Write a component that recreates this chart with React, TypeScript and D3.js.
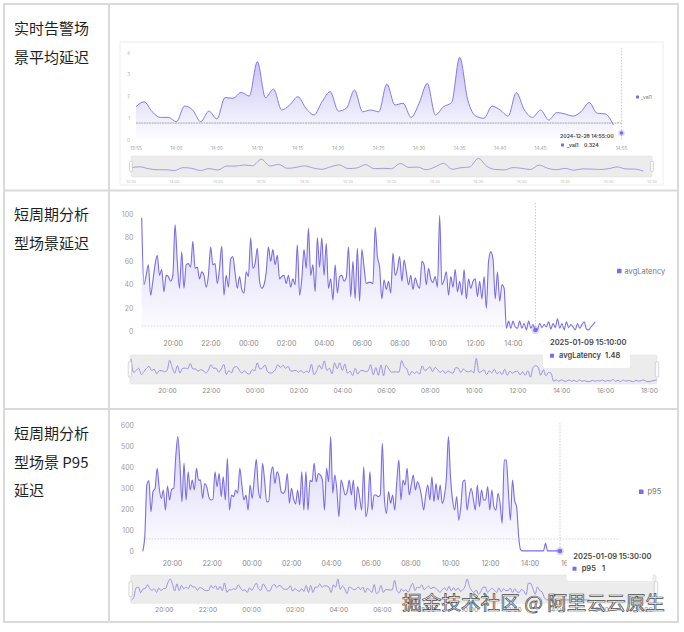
import React from 'react';
import * as d3 from 'd3';

const LINE_COLOR = '#7a6de6';
const SLIDER_LINE = '#9188ea';

const rowLabels: string[][] = [
  ['实时告警场', '景平均延迟'],
  ['短周期分析', '型场景延迟'],
  ['短周期分析', '型场景 P95', '延迟'],
];
const watermark = '掘金技术社区 @ 阿里云云原生';

// ---------- chart 1: realtime alert scenario ----------
const val1Name = '_val1';
const val1Start = '2024-12-28T13:55:00';
const val1End = '2024-12-28T14:54:00';
const val1Domain = ['2024-12-28T13:55:00', '2024-12-28T14:55:00'];
const val1YDomain = [0, 4];
const val1YTicks = [0, 1, 2, 3, 4];
const val1Values = [
  1.53, 1.76, 1.3, 1.04, 1.04, 0.84, 1.56, 1.38, 0.84, 1.33,
  0.97, 1.95, 1.92, 2.19, 2.02, 3.6, 1.95, 2.34, 1.38, 1.61,
  1.99, 1.46, 1.15, 1.76, 2.22, 1.33, 1.46, 2.3, 1.3, 1.38,
  1.3, 2.57, 1.61, 1.69, 1.04, 1.7, 2.6, 1.15, 1.53, 1.72,
  3.8, 1.84, 1.1, 1.0, 1.56, 1.38, 1.1, 2.18, 1.38, 1.04,
  1.38, 0.92, 1.26, 1.2, 1.1, 1.3, 1.72, 1.23, 1.2, 0.69,
];
const val1Tip = { time: '2024-12-28T14:55:00', title: '2024-12-28 14:55:00', value: 0.324, text: '0.324' };
const val1Pointer = 0.78;

// ---------- chart 2: short-period avg latency ----------
const avgName = 'avgLatency';
const avgStart = '2025-01-08T18:20:00';
const avgEnd = '2025-01-09T18:20:00';
const avgDomain = ['2025-01-08T18:20:00', '2025-01-09T18:20:00'];
const avgYDomain = [0, 100];
const avgYTicks = [0, 20, 40, 60, 80, 100];
const avgValues = [
  97, 40, 48, 57, 31, 43, 57, 65, 48, 53,
  34, 48, 47, 43, 48, 91, 60, 37, 68, 37,
  57, 58, 55, 77, 54, 55, 45, 51, 48, 38,
  48, 72, 57, 58, 41, 54, 73, 31, 48, 38,
  62, 64, 50, 37, 47, 36, 33, 51, 47, 80,
  54, 58, 71, 43, 37, 40, 51, 72, 60, 70,
  57, 65, 45, 47, 48, 41, 48, 38, 45, 40,
  74, 31, 45, 70, 54, 88, 48, 57, 34, 80,
  55, 80, 48, 75, 37, 45, 27, 57, 33, 47,
  48, 43, 46, 72, 30, 60, 28, 71, 26, 70,
  55, 41, 42, 42, 41, 89, 64, 55, 28, 44,
  36, 43, 33, 67, 48, 53, 64, 43, 61, 51,
  40, 48,
  36, 46, 40, 37, 60, 57, 40, 54, 45, 42,
  47, 38, 99, 40, 44, 51, 31, 47, 38, 53,
  34, 43, 31, 53, 28, 45, 37, 43, 45, 30,
  43, 28, 47, 20, 60, 68, 62, 28, 51, 26,
  40, 37,
  3, 9, 3, 9, 4, 3, 9, 3, 7, 1.5,
  9, 3, 6, 1.48, 2, 7, 3.5, 6, 4, 8.5,
  2.3, 7, 3.5, 11, 3, 7, 1.5, 8.5, 3.5, 6,
  4, 1.5, 7, 3, 6, 8.5, 2.3, 1.5, 4, 6,
  8.5,
];
const avgTip = { time: '2025-01-09T15:10:00', title: '2025-01-09 15:10:00', value: 1.48, text: '1.48' };
const avgPointer = 4.9;

// ---------- chart 3: short-period P95 latency ----------
const p95Name = 'p95';
const p95Start = '2025-01-08T18:30:00';
const p95End = '2025-01-09T15:30:00';
const p95Domain = ['2025-01-08T18:30:00', '2025-01-09T18:30:00'];
const p95YDomain = [0, 600];
const p95YTicks = [0, 100, 200, 300, 400, 500, 600];
const p95Values = [
  0, 70, 317, 337, 189, 285, 301, 396, 301, 253,
  293, 197, 312, 245, 296, 301, 452, 548, 420, 237,
  420, 245, 380, 293, 340, 293, 396, 340, 340, 253,
  324, 309, 261, 245, 248, 380, 309, 372, 261, 356,
  245, 444, 197, 269, 261, 293, 277, 396, 317, 245,
  269, 197, 317, 253, 348, 439, 293, 253, 420, 340,
  237, 237, 364, 404, 324, 380, 356, 285, 277, 293,
  372, 230, 301, 253, 226, 293, 221, 380, 197, 380,
  197, 340, 332, 420, 332, 372, 364, 340, 197, 396,
  332, 548, 277, 364, 293, 165, 340, 309, 269, 285,
  340, 269, 340, 197, 309, 258, 197, 404, 165, 213,
  380, 197, 269, 269, 261, 269, 516, 253, 181, 285,
  230, 269, 197, 332, 436, 245, 340, 317, 396, 269,
  317, 364, 293, 332, 309, 261, 197, 269, 317, 245,
  356, 237, 324, 245, 317, 229, 261, 348, 548, 356,
  245, 197, 261, 149, 213, 332, 340, 197, 261, 301,
  253, 197, 317, 213, 293, 245, 245, 309, 197, 293,
  213, 197, 277, 229, 134, 436, 436, 293, 149, 340,
  245, 213, 70,
  6, 2, 2, 2, 2, 2, 2, 2, 2, 2,
  2, 2, 38, 2, 2, 2, 2, 2, 2, 1,
];
const p95Tip = { time: '2025-01-09T15:30:00', title: '2025-01-09 15:30:00', value: 1, text: '1' };
const p95Pointer = 59;

const TICK_FONT = "Inter, 'Noto Sans', sans-serif";
const CJK_FONT = "'Noto Sans CJK SC', 'Noto Sans', sans-serif";

function SeriesChart(props: any) {
  const { id, values, start, end, domain, yDomain, yTicks, name, tip, pointer, L } = props;
  const t0 = +new Date(start);
  const t1 = +new Date(end);
  const n = values.length;
  const pts = values.map((v: number, i: number) => ({ t: new Date(t0 + (i * (t1 - t0)) / (n - 1)), v }));
  const dom = domain.map((d: string) => new Date(d));
  const x = d3.scaleTime().domain(dom).range([L.x0, L.x1]);
  const y = d3.scaleLinear().domain(yDomain).range([L.yBase, L.yTop]);
  const sx = d3.scaleTime().domain(dom).range([L.s.sx0, L.s.sx1]);
  const sy = d3.scaleLinear().domain(yDomain).range([L.s.lineBase, L.s.lineTop]);
  const lineGen = d3.line<any>().x((d) => x(d.t)).y((d) => y(d.v)).curve(d3.curveMonotoneX);
  const areaGen = d3.area<any>().x((d) => x(d.t)).y0(y(0)).y1((d) => y(d.v)).curve(d3.curveMonotoneX);
  const sLine = d3.line<any>().x((d) => sx(d.t)).y((d) => sy(d.v)).curve(d3.curveMonotoneX);
  const fmt = d3.timeFormat('%H:%M');
  const xTicks = x.ticks(L.interval);
  const sTicks = sx.ticks(L.interval);
  const tipX = x(new Date(tip.time));
  const tipY = y(tip.value);
  const hY = y(pointer);
  const T = L.tip;
  return (
    <g>
      <defs>
        <linearGradient id={`grad-${id}`} x1="0" y1="0" x2="0" y2="1">
          <stop offset="0%" stopColor={LINE_COLOR} stopOpacity={L.fillTop} />
          <stop offset="100%" stopColor={LINE_COLOR} stopOpacity={0.01} />
        </linearGradient>
      </defs>
      {L.frame && (
        <rect x={L.frame.x} y={L.frame.y} width={L.frame.w} height={L.frame.h} fill="none" stroke="#ededed" strokeWidth={1} />
      )}
      {yTicks.map((t: number) => (
        <text key={`y${t}`} x={L.yLabelX} y={y(t)} dy="0.35em" textAnchor="end" fontSize={L.fs} fill={L.yColor} fontFamily={TICK_FONT}>
          {t}
        </text>
      ))}
      <path d={areaGen(pts) || ''} fill={`url(#grad-${id})`} />
      <path d={lineGen(pts) || ''} fill="none" stroke={LINE_COLOR} strokeWidth={L.lw} />
      {xTicks.map((t: Date, i: number) => (
        <text key={`x${i}`} x={x(t)} y={L.xLabelY} dy="0.35em" textAnchor="middle" fontSize={L.fs} fill={L.xColor} fontFamily={TICK_FONT}>
          {fmt(t)}
        </text>
      ))}
      {/* crosshair */}
      <line x1={L.x0} x2={L.hEnd === 'cross' ? tipX : L.x1} y1={hY} y2={hY} stroke={L.hColor} strokeWidth={L.hWidth} strokeDasharray={L.hDash} />
      <line x1={tipX} x2={tipX} y1={L.vTop} y2={L.yBase} stroke="#b8b8b8" strokeWidth={0.7} strokeDasharray="1.5,1.5" />
      {/* slider */}
      <rect x={L.s.x0} y={L.s.y0} width={L.s.x1 - L.s.x0} height={L.s.y1 - L.s.y0} fill="#ececec" stroke="#e2e2e2" strokeWidth={0.6} rx={1.5} />
      <path d={sLine(pts) || ''} fill="none" stroke={SLIDER_LINE} strokeWidth={L.s.lw} />
      {[L.s.x0, L.s.x1].map((hx: number, i: number) => (
        <rect key={`h${i}`} x={hx - L.s.hw / 2} y={(L.s.y0 + L.s.y1) / 2 - L.s.hh / 2} width={L.s.hw} height={L.s.hh} rx={1} fill="#fafafa" stroke="#bdbdbd" strokeWidth={0.6} />
      ))}
      {sTicks.map((t: Date, i: number) => (
        <text key={`s${i}`} x={sx(t)} y={L.s.labelY} dy="0.35em" textAnchor="middle" fontSize={L.s.fs} fill={L.s.color} fontFamily={TICK_FONT}>
          {fmt(t)}
        </text>
      ))}
      {/* legend */}
      <rect x={L.legend.x} y={L.legend.y - L.legend.size / 2} width={L.legend.size} height={L.legend.size} fill={LINE_COLOR} rx={0.5} />
      <text x={L.legend.x + L.legend.size + L.legend.gap} y={L.legend.y} dy="0.35em" fontSize={L.legend.fs} fill="#777" fontFamily={TICK_FONT}>
        {name}
      </text>
      {/* tooltip */}
      <rect x={T.x} y={T.y} width={T.w} height={T.h} fill="#ffffff" rx={2} />
      <text x={T.titleX} y={T.titleY} dy="0.35em" fontSize={T.fs} fontWeight={600} fill="#444" fontFamily={TICK_FONT}>
        {tip.title}
      </text>
      <rect x={T.sqX} y={T.rowY - T.sq / 2} width={T.sq} height={T.sq} fill={LINE_COLOR} />
      <text x={T.nameX} y={T.rowY} dy="0.35em" fontSize={T.fs} fontWeight={600} fill="#444" fontFamily={TICK_FONT}>
        {name}
      </text>
      <text x={T.valX} y={T.rowY} dy="0.35em" fontSize={T.fs} fontWeight={600} fill="#444" fontFamily={TICK_FONT}>
        {tip.text}
      </text>
      {/* marker */}
      <circle cx={tipX} cy={tipY} r={L.mr * 1.8} fill={LINE_COLOR} opacity={0.25} />
      <circle cx={tipX} cy={tipY} r={L.mr} fill={LINE_COLOR} />
    </g>
  );
}

const L1 = {
  x0: 136, x1: 621.5, yBase: 140, yTop: 53, fs: 4.6, yLabelX: 130, xLabelY: 148, lw: 0.9, fillTop: 0.42,
  yColor: '#b0b0b0', xColor: '#9a9a9a',
  interval: d3.timeMinute.every(5),
  frame: { x: 120, y: 42, w: 543, h: 143 },
  hEnd: 'cross', hColor: '#8a8a8a', hWidth: 0.7, hDash: '2,0.6', vTop: 48,
  s: { x0: 131, x1: 652, y0: 156, y1: 177, sx0: 131, sx1: 652, lineBase: 174, lineTop: 157.6, labelY: 181.5, fs: 3.8, color: '#bdbdbd', lw: 0.8, hw: 3, hh: 10 },
  legend: { x: 636, y: 97, size: 3, gap: 2, fs: 5 },
  tip: { x: 556, y: 141, w: 58, h: 9, titleX: 560, titleY: 136, fs: 5.2, rowY: 145, sqX: 561, sq: 3, nameX: 567, valX: 584 },
  mr: 1.8,
};

const L2 = {
  x0: 141.7, x1: 595.3, yBase: 331.7, yTop: 214.3, fs: 7, yLabelX: 133.5, xLabelY: 344, lw: 1.1, fillTop: 0.3,
  yColor: '#a0a0a0', xColor: '#8a8a8a',
  interval: d3.timeHour.every(2),
  hEnd: 'plot', hColor: '#c8c8c8', hWidth: 0.7, hDash: '1.5,1.5', vTop: 203,
  s: { x0: 130, x1: 657, y0: 355, y1: 384, sx0: 131, sx1: 656.7, lineBase: 382, lineTop: 358, labelY: 390.5, fs: 6.6, color: '#8a8a8a', lw: 0.9, hw: 3.5, hh: 15 },
  legend: { x: 617, y: 271, size: 4.5, gap: 3, fs: 7.5 },
  tip: { x: 543, y: 335, w: 87, h: 33, titleX: 550, titleY: 342.7, fs: 7.5, rowY: 355.7, sqX: 550, sq: 4, nameX: 559, valX: 605 },
  mr: 2.3,
};

const L3 = {
  x0: 142.7, x1: 619.6, yBase: 551.3, yTop: 425.7, fs: 7, yLabelX: 134, xLabelY: 563.3, lw: 1.1, fillTop: 0.3,
  yColor: '#a0a0a0', xColor: '#8a8a8a',
  interval: d3.timeHour.every(2),
  hEnd: 'plot', hColor: '#c8c8c8', hWidth: 0.7, hDash: '1.5,1.5', vTop: 423,
  s: { x0: 130.7, x1: 656, y0: 575, y1: 603.3, sx0: 131.6, sx1: 655, lineBase: 600, lineTop: 577, labelY: 610, fs: 6.6, color: '#8a8a8a', lw: 0.9, hw: 3.5, hh: 15 },
  legend: { x: 639, y: 491.7, size: 4.5, gap: 4, fs: 7.5 },
  tip: { x: 566.7, y: 547, w: 86, h: 34, titleX: 573.3, titleY: 556, fs: 7.5, rowY: 568.7, sqX: 572.5, sq: 4, nameX: 581.7, valX: 602 },
  mr: 2.3,
};

const labelRows = [
  { ys: [28.5, 57.5] },
  { ys: [215, 244] },
  { ys: [434, 463, 491] },
];

export default function App() {
  const border = '#dadada';
  return (
    <svg width={684} height={632} style={{ position: 'absolute', left: 0, top: 0, display: 'block', background: '#fff' }}>
      <rect x={0} y={0} width={684} height={632} fill="#fff" />
      {/* table */}
      {[4, 109, 678].map((vx) => (
        <line key={`v${vx}`} x1={vx} x2={vx} y1={3} y2={623} stroke={border} strokeWidth={2} />
      ))}
      {[4, 190.5, 409, 622].map((hy) => (
        <line key={`hz${hy}`} x1={3} x2={679} y1={hy} y2={hy} stroke={border} strokeWidth={2} />
      ))}
      {rowLabels.map((lines, r) =>
        lines.map((s, i) => (
          <text key={`l${r}-${i}`} x={14} y={labelRows[r].ys[i]} dy="0.36em" fontSize={15} fill="#1f1f1f" fontFamily={CJK_FONT}>
            {s}
          </text>
        ))
      )}
      <SeriesChart id="c1" values={val1Values} start={val1Start} end={val1End} domain={val1Domain} yDomain={val1YDomain} yTicks={val1YTicks} name={val1Name} tip={val1Tip} pointer={val1Pointer} L={L1} />
      <SeriesChart id="c2" values={avgValues} start={avgStart} end={avgEnd} domain={avgDomain} yDomain={avgYDomain} yTicks={avgYTicks} name={avgName} tip={avgTip} pointer={avgPointer} L={L2} />
      <SeriesChart id="c3" values={p95Values} start={p95Start} end={p95End} domain={p95Domain} yDomain={p95YDomain} yTicks={p95YTicks} name={p95Name} tip={p95Tip} pointer={p95Pointer} L={L3} />
      <text x={402} y={603} dy="0.36em" fontSize={19} textLength={263} lengthAdjust="spacingAndGlyphs" fill="#ffffff" stroke="#4a4a4a" strokeWidth={0.7} fontFamily={CJK_FONT}>
        {watermark}
      </text>
    </svg>
  );
}
